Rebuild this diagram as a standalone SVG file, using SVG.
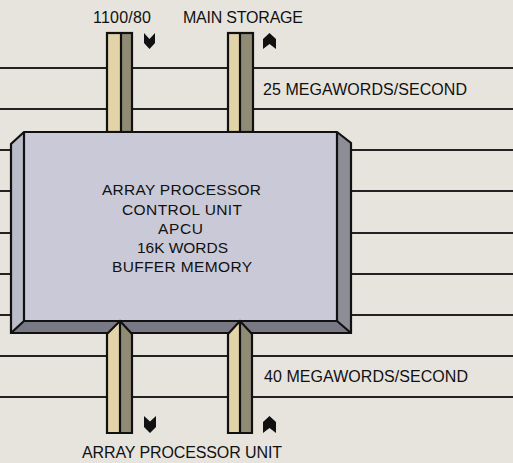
<svg xmlns="http://www.w3.org/2000/svg" width="513" height="463" viewBox="0 0 513 463">
<style>
.ln{stroke:#222;stroke-width:2;fill:none}
.ol{stroke:#111;stroke-width:2.2;stroke-linejoin:miter;fill:none}
.be{fill:#e2d3a9}
.ol2{fill:#8f8b75}
.t{font-family:"Liberation Sans",Arial,sans-serif;fill:#111}
.arr{fill:#111}
</style>
<rect width="513" height="463" fill="#e7e4de"/>
<g id="connectors">
<line class="ln" x1="0" y1="68" x2="513" y2="68"/>
<line class="ln" x1="0" y1="109" x2="513" y2="109"/>
<line class="ln" x1="0" y1="150" x2="513" y2="150"/>
<line class="ln" x1="0" y1="191" x2="513" y2="191"/>
<line class="ln" x1="0" y1="233" x2="513" y2="233"/>
<line class="ln" x1="0" y1="274" x2="513" y2="274"/>
<line class="ln" x1="0" y1="315" x2="513" y2="315"/>
<line class="ln" x1="0" y1="356" x2="513" y2="356"/>
<line class="ln" x1="0" y1="397" x2="513" y2="397"/>
</g>
<g id="bus-top-1100">
<rect class="be" x="107" y="33" width="14" height="99"/>
<rect class="ol2" x="121" y="33" width="11" height="99"/>
<rect class="ol" x="107" y="33" width="25" height="99"/>
<line class="ol" x1="121" y1="33" x2="121" y2="132"/>
<polygon class="arr" points="144,33 149.5,39 155,33 155,43 149.5,49 144,43"/>
</g>
<g id="bus-top-main">
<rect class="be" x="228" y="33" width="12" height="99"/>
<rect class="ol2" x="240" y="33" width="13" height="99"/>
<rect class="ol" x="228" y="33" width="25" height="99"/>
<line class="ol" x1="240" y1="33" x2="240" y2="132"/>
<polygon class="arr" points="269.5,33 276,39 276,49 269.5,44 263,49 263,39"/>
</g>
<g id="apcu">
<rect x="24" y="132" width="313" height="189" fill="#c9c9d7"/>
<polygon points="24,132 11,144 11,333 24,321" fill="#babcca"/>
<polygon points="337,132 351,143 351,333 337,321" fill="#8d8d98"/>
<polygon points="24,321 337,321 351,333 11,333" fill="#787984"/>
<g class="ol">
<polygon points="24,132 337,132 351,143 351,333 11,333 11,144"/>
<line x1="24" y1="132" x2="24" y2="321"/>
<line x1="337" y1="132" x2="337" y2="321"/>
<line x1="24" y1="321" x2="337" y2="321"/>
<line x1="24" y1="321" x2="11" y2="333"/>
<line x1="337" y1="321" x2="351" y2="333"/>
</g>
<g class="t" font-size="15.5" text-anchor="middle">
<text x="181.5" y="195" textLength="159" lengthAdjust="spacing">ARRAY PROCESSOR</text>
<text x="182" y="214.5" textLength="120" lengthAdjust="spacing">CONTROL UNIT</text>
<text x="180.5" y="234" textLength="45" lengthAdjust="spacing">APCU</text>
<text x="182.5" y="253" textLength="91" lengthAdjust="spacing">16K WORDS</text>
<text x="182" y="272" textLength="140" lengthAdjust="spacing">BUFFER MEMORY</text>
</g>
</g>
<g id="bus-bottom-1">
<polygon class="be" points="107,433 107,334 120,321 120,433"/>
<polygon class="ol2" points="120,321 132,334 132,433 120,433"/>
<polygon class="ol" points="107,433 107,334 120,321 132,334 132,433"/>
<line class="ol" x1="120" y1="321" x2="120" y2="433"/>
<polygon class="arr" points="144,416 150,421.5 156,416 156,427 150,433 144,427"/>
</g>
<g id="bus-bottom-2">
<polygon class="be" points="228,433 228,334 240,321 240,433"/>
<polygon class="ol2" points="240,321 252,334 252,433 240,433"/>
<polygon class="ol" points="228,433 228,334 240,321 252,334 252,433"/>
<line class="ol" x1="240" y1="321" x2="240" y2="433"/>
<polygon class="arr" points="269.5,416 276,422 276,433 269.5,428 263,433 263,422"/>
</g>
<g id="labels" class="t" font-size="16">
<text x="93" y="23" textLength="58" lengthAdjust="spacing">1100/80</text>
<text x="183" y="23" textLength="120" lengthAdjust="spacing">MAIN STORAGE</text>
<text x="263" y="95" textLength="204" lengthAdjust="spacing">25 MEGAWORDS/SECOND</text>
<text x="264" y="382" textLength="204" lengthAdjust="spacing">40 MEGAWORDS/SECOND</text>
<text x="82" y="458" textLength="200" lengthAdjust="spacing">ARRAY PROCESSOR UNIT</text>
</g>
</svg>
